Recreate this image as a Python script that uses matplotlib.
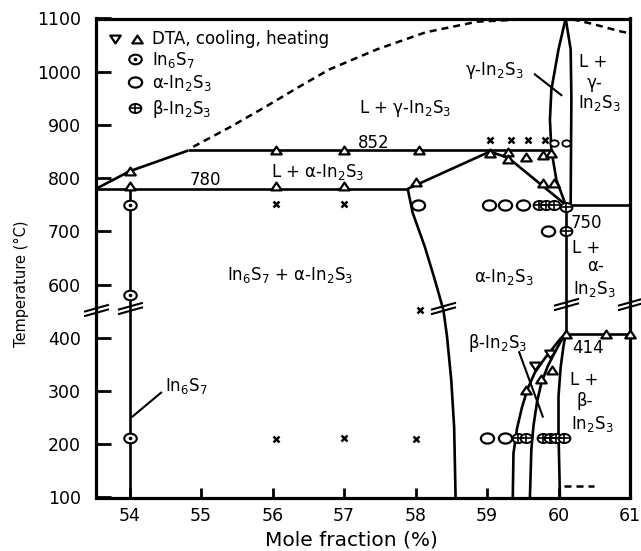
import numpy as np
import matplotlib
matplotlib.use("Agg")
import matplotlib.pyplot as plt
from matplotlib.path import Path

# In-S phase diagram near In2S3, mole fraction (%) vs temperature (degC)
eutectic_T = 780
peritectic_T = 852
eutectoid_T = 750
beta_T = 414

# liquidus on the sulfur-poor side and its metastable (dashed) extension
liq_x = [53.53, 54.0, 54.82]
liq_T = [780, 813, 852]
meta_x = [54.89, 55.42, 55.90, 56.35, 56.79, 57.46, 58.14, 58.86, 59.60, 60.10,
          60.21, 60.47, 60.86, 61.0]
meta_T = [859, 897, 934, 970, 1004, 1042, 1074, 1094, 1099, 1100,
          1098, 1090, 1076, 1072]

# In6S7 line compound
in6s7_x = [54.0, 54.0]
in6s7_T = [100, 786]

# invariant lines
eut_x = [53.53, 57.89]
per_x = [54.82, 59.90]
etd_x = [60.17, 61.0]
beta_x = [60.10, 61.0]

# alpha-In2S3 field
a_top_x = [57.89, 59.04, 59.30, 60.10]
a_top_T = [780, 850, 838, 750]
a_solv_x = [57.89, 57.96, 58.13, 58.27, 58.39, 58.44, 58.50, 58.54, 58.56]
a_solv_T = [780, 735, 671, 609, 504, 406, 320, 232, 100]
a_right_x = [60.10, 60.10]
a_right_T = [750, 414]

# gamma-In2S3 field
g_left_x = [60.10, 60.00, 59.90, 59.88, 59.90, 59.97, 60.10]
g_left_T = [1100, 1042, 966, 910, 853, 797, 750]
g_right_x = [60.10, 60.17, 60.18, 60.17]
g_right_T = [1100, 1042, 950, 750]

# beta-In2S3 field
b1_x = [59.36, 59.37, 59.42, 59.49, 59.57, 59.67, 59.80, 59.93, 60.03, 60.10]
b1_T = [100, 183, 230, 270, 305, 335, 360, 382, 399, 414]
b2_x = [59.60, 59.62, 59.65, 59.70, 59.76, 59.85, 59.95, 60.03, 60.10]
b2_T = [100, 190, 235, 280, 315, 347, 373, 393, 414]
b3_x = [60.02, 60.00, 60.00, 60.03, 60.07, 60.10]
b3_T = [100, 220, 290, 345, 385, 414]
low_x = [60.08, 60.50]
low_T = [121, 121]

# DTA signals
heat_x = [54.0, 54.0, 56.05, 57.0, 56.05, 57.0, 58.05, 58.0, 59.04, 59.30, 59.30,
          59.55, 59.78, 59.90, 59.78, 59.93, 59.55, 59.76, 59.91, 60.10, 60.67, 61.0]
heat_T = [813, 786, 786, 786, 852, 852, 852, 792, 848, 850, 836,
          840, 844, 848, 791, 791, 302, 322, 339, 414, 414, 414]
cool_x = [59.67, 59.88]
cool_T = [347, 370]

# annealed samples by phase found
s_in6s7_x = [54.0, 54.0, 54.0]
s_in6s7_T = [750, 560, 211]
s_alpha_x = [58.03, 59.03, 59.25, 59.51, 59.85, 59.00, 59.25]
s_alpha_T = [750, 750, 750, 750, 700, 211, 211]
s_beta_x = [59.73, 59.82, 59.93, 60.10, 60.10, 59.43, 59.54, 59.78, 59.88, 59.97, 60.07]
s_beta_T = [750, 750, 750, 745, 700, 211, 211, 211, 211, 211, 211]
s_mix_x = [56.05, 57.0, 56.05, 57.0, 58.0, 58.06, 59.04, 59.34, 59.58, 59.81]
s_mix_T = [752, 752, 210, 212, 210, 504, 872, 872, 872, 872]
s_gamma_x = [59.93, 60.10]
s_gamma_T = [866, 866]

# axis break positions
brk_x = [53.53, 54.0, 58.39, 60.10, 61.0]
brk_T = [504, 512, 512, 526, 526]

x_ticks = [54, 55, 56, 57, 58, 59, 60, 61]
y_ticks = [100, 200, 300, 400, 600, 700, 800, 900, 1000, 1100]


def fwd(t):
    # 400-600 degC squeezed into half a division
    t = np.asarray(t, dtype=float)
    return np.where(t <= 400, t, np.where(t >= 600, t - 100, 400 + (t - 400) / 2))


def inv(u):
    u = np.asarray(u, dtype=float)
    return np.where(u <= 400, u, np.where(u >= 500, u + 100, 400 + (u - 400) * 2))


# marker shapes, slightly wider than tall
SQ = 1.3
circ = Path.unit_circle()
ellipse = Path(circ.vertices * [SQ, 1], circ.codes)
plus = Path([(-SQ, 0), (SQ, 0), (0, -1), (0, 1)],
            [Path.MOVETO, Path.LINETO, Path.MOVETO, Path.LINETO])
tri_up = Path([(0, 0.75), (-1, -0.75), (1, -0.75), (0, 0.75)], closed=True)
tri_dn = Path([(0, -0.75), (-1, 0.75), (1, 0.75), (0, -0.75)], closed=True)
brk = Path([(-1, -0.46), (1, 0.10), (-1, -0.10), (1, 0.46)],
           [Path.MOVETO, Path.LINETO, Path.MOVETO, Path.LINETO])

LW = 1.9
FS = 12

fig = plt.figure(figsize=(6.41, 5.51), dpi=100)
ax = fig.add_axes([96 / 641, 1 - 497.5 / 551, 534 / 641, 479 / 551])
ax.set_yscale("function", functions=(fwd, inv))
ax.set_xlim(53.53, 61.0)
ax.set_ylim(100, 1100)

line_kw = dict(color="black", lw=LW, solid_capstyle="butt", zorder=2)
ax.plot(liq_x, liq_T, **line_kw)
ax.plot(meta_x, meta_T, color="black", lw=1.8, ls=(0, (2.8, 2.0)), zorder=2)
ax.plot(in6s7_x, in6s7_T, **line_kw)
ax.plot(eut_x, [eutectic_T] * 2, **line_kw)
ax.plot(per_x, [peritectic_T] * 2, **line_kw)
ax.plot(etd_x, [eutectoid_T] * 2, **line_kw)
ax.plot(beta_x, [beta_T] * 2, **line_kw)
ax.plot(a_top_x, a_top_T, **line_kw)
ax.plot(a_solv_x, a_solv_T, **line_kw)
ax.plot(a_right_x, a_right_T, **line_kw)
ax.plot(g_left_x, g_left_T, **line_kw)
ax.plot(g_right_x, g_right_T, **line_kw)
ax.plot(b1_x, b1_T, **line_kw)
ax.plot(b2_x, b2_T, **line_kw)
ax.plot(b3_x, b3_T, **line_kw)
ax.plot(low_x, low_T, color="black", lw=1.8, ls=(0, (2.8, 2.0)), zorder=2)

mk = dict(ls="none", mec="black", clip_on=False, zorder=3)
ax.plot(heat_x, heat_T, marker=tri_up, ms=7.5, mew=1.6, mfc="white", **mk)
ax.plot(cool_x, cool_T, marker=tri_dn, ms=7.5, mew=1.6, mfc="white", **mk)
ax.plot(s_in6s7_x, s_in6s7_T, marker=ellipse, ms=9, mew=1.5, mfc="white", **mk)
ax.plot(s_in6s7_x, s_in6s7_T, marker="o", ms=1.8, mew=0.8, mfc="black", **mk)
ax.plot(s_alpha_x, s_alpha_T, marker=ellipse, ms=9.5, mew=1.6, mfc="white", **mk)
ax.plot(s_beta_x, s_beta_T, marker=ellipse, ms=8.5, mew=1.4, mfc="white", **mk)
ax.plot(s_beta_x, s_beta_T, marker=plus, ms=8.5, mew=1.2, mfc="none", **mk)
ax.plot(s_mix_x, s_mix_T, marker="x", ms=4.5, mew=1.8, **mk)
ax.plot(s_gamma_x, s_gamma_T, marker=ellipse, ms=6, mew=1.3, mfc="white", **mk)
ax.plot(brk_x, brk_T, marker=brk, ms=18, mew=1.5, mfc="none", **mk)

# leader lines
ax.plot([59.67, 60.04], [995, 956], color="black", lw=1.5, zorder=2)
ax.plot([59.45, 59.78], [373, 252], color="black", lw=1.5, zorder=2)
ax.plot([54.04, 54.44], [252, 297], color="black", lw=1.5, zorder=2)

txt = dict(fontsize=FS, va="baseline", zorder=4)
ax.text(57.86, 922, "L + γ-In$_2$S$_3$", ha="center", **txt)
ax.text(57.42, 856, str(peritectic_T), ha="center", **txt)
ax.text(56.63, 803, "L + α-In$_2$S$_3$", ha="center", **txt)
ax.text(55.06, 787, str(eutectic_T), ha="center", **txt)
ax.text(56.25, 608, "In$_6$S$_7$ + α-In$_2$S$_3$", ha="center", **txt)
ax.text(59.24, 604, "α-In$_2$S$_3$", ha="center", **txt)
ax.text(60.17, 707, str(eutectoid_T), ha="left", **txt)
ax.text(60.19, 660, "L +", ha="left", **txt)
ax.text(60.40, 626, "α-", ha="left", **txt)
ax.text(60.20, 566, "In$_2$S$_3$", ha="left", **txt)
ax.text(60.19, 372, str(beta_T), ha="left", **txt)
ax.text(60.16, 312, "L +", ha="left", **txt)
ax.text(60.25, 271, "β-", ha="left", **txt)
ax.text(60.18, 228, "In$_2$S$_3$", ha="left", **txt)
ax.text(59.15, 380, "β-In$_2$S$_3$", ha="center", **txt)
ax.text(59.10, 994, "γ-In$_2$S$_3$", ha="center", **txt)
ax.text(60.29, 1009, "L +", ha="left", **txt)
ax.text(60.40, 970, "γ-", ha="left", **txt)
ax.text(60.27, 931, "In$_2$S$_3$", ha="left", **txt)
ax.text(54.49, 300, "In$_6$S$_7$", ha="left", **txt)

# key in the upper left corner
key = dict(ls="none", mec="black", transform=ax.transAxes, clip_on=False, zorder=3)
ax.plot([0.0356], [0.958], marker=tri_dn, ms=7.5, mew=1.6, mfc="white", **key)
ax.plot([0.0768], [0.958], marker=tri_up, ms=7.5, mew=1.6, mfc="white", **key)
ax.plot([0.073], [0.915], marker=ellipse, ms=9, mew=1.5, mfc="white", **key)
ax.plot([0.073], [0.915], marker="o", ms=1.8, mew=0.8, mfc="black", **key)
ax.plot([0.073], [0.867], marker=ellipse, ms=9.5, mew=1.6, mfc="white", **key)
ax.plot([0.073], [0.8125], marker=ellipse, ms=8.5, mew=1.4, mfc="white", **key)
ax.plot([0.073], [0.8125], marker=plus, ms=8.5, mew=1.2, mfc="none", **key)
key_txt = dict(fontsize=FS, va="baseline", ha="left", transform=ax.transAxes)
ax.text(0.105, 0.947, "DTA, cooling, heating", **key_txt)
ax.text(0.105, 0.903, "In$_6$S$_7$", **key_txt)
ax.text(0.105, 0.855, "α-In$_2$S$_3$", **key_txt)
ax.text(0.105, 0.801, "β-In$_2$S$_3$", **key_txt)

ax.set_xticks(x_ticks)
ax.set_yticks(y_ticks)
ax.set_yticklabels([str(t) for t in y_ticks])
ax.minorticks_off()
ax.tick_params(axis="y", direction="in", length=10.5, width=2, labelsize=12.5, pad=11)
ax.tick_params(axis="x", direction="in", length=7, width=2, labelsize=12.5, pad=7)
for s in ax.spines.values():
    s.set_linewidth(2.3)

ax.set_xlabel("Mole fraction (%)", fontsize=14.5)
ax.xaxis.set_label_coords(0.478, -0.068)
ax.set_ylabel("Temperature (°C)", fontsize=10.5)
ax.yaxis.set_label_coords(-0.125, 0.446)

fig.savefig("out.png", dpi=100)
